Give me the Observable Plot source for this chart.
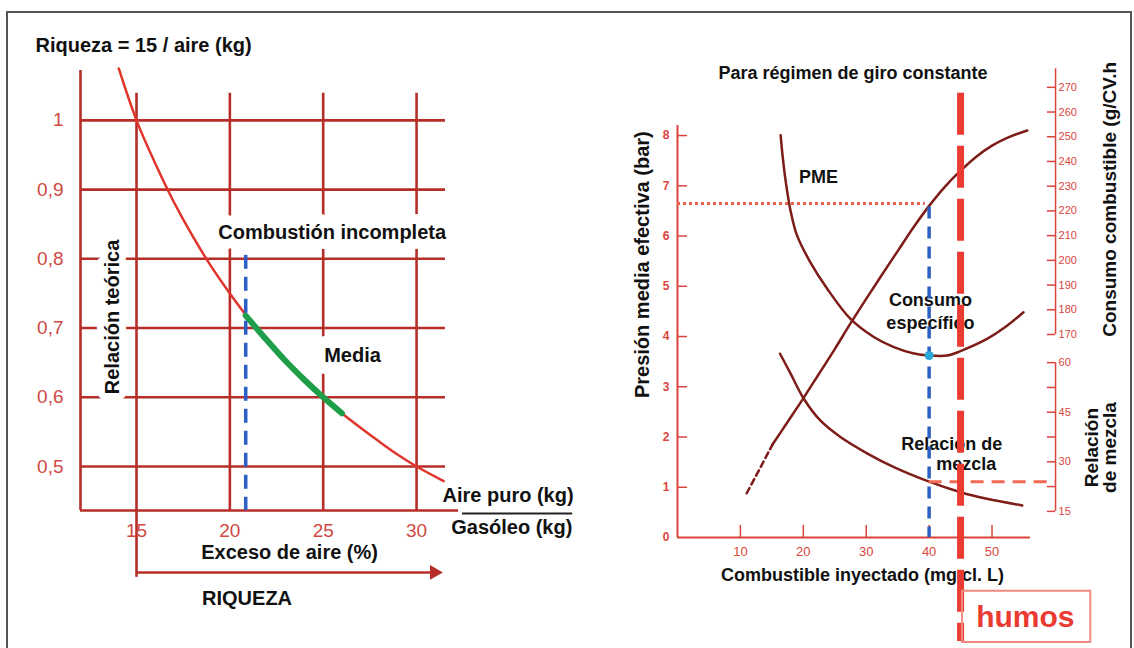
<!DOCTYPE html>
<html><head><meta charset="utf-8">
<script src="https://cdn.jsdelivr.net/npm/d3@7"></script>
<script src="https://cdn.jsdelivr.net/npm/@observablehq/plot@0.6"></script>
<style>
html,body{margin:0;padding:0;background:#fff;}
#wrap{position:relative;width:1134px;height:648px;overflow:hidden;background:#fff;font-family:"Liberation Sans",Arial,sans-serif;}
#frame{position:absolute;left:6px;top:11px;width:1122px;height:650px;border-left:2px solid #555;border-top:2px solid #555;border-right:2px solid #555;}
#left{position:absolute;left:0;top:0;width:600px;height:648px;}
#right{position:absolute;left:600px;top:0;width:534px;height:648px;}
</style></head><body>
<div id="wrap"><div id="frame"></div><div id="left"></div><div id="right"></div></div>
<script>
// ---------- Left chart data ----------
const leftYTicks = [0.5, 0.6, 0.7, 0.8, 0.9, 1];
const leftYLabels = ["0,5", "0,6", "0,7", "0,8", "0,9", "1"];
const leftXTicks = [15, 20, 25, 30];
const riquezaX = [14.05, 15, 16, 17, 18, 19, 20, 21, 22, 23, 24, 25, 26, 27, 28, 29, 30, 31.45];
const riquezaY = [1.075, 1.0, 0.938, 0.882, 0.833, 0.789, 0.75, 0.714, 0.682, 0.652, 0.625, 0.6, 0.577, 0.556, 0.536, 0.517, 0.5, 0.479];
const mediaX = [20.85, 22, 23, 24, 25, 26];
const mediaY = [0.718, 0.682, 0.652, 0.625, 0.6, 0.577];
const limiteX = [20.85];
const limiteTop = 0.805;

// ---------- Right chart data ----------
const pmeTicks = [0, 1, 2, 3, 4, 5, 6, 7, 8];
const fuelTicks = [10, 20, 30, 40, 50];
const consumoTicks = [170, 180, 190, 200, 210, 220, 230, 240, 250, 260, 270];
const mezclaTicks = [15, 22.5, 30, 37.5, 45, 52.5, 60];
const mezclaLabels = [15, 30, 45, 60];
const pmeDashX = [11, 13, 15.1];
const pmeDashY = [0.88, 1.35, 1.85];
const pmeX = [15.1, 17.5, 20, 22.5, 25, 27.5, 30, 32.5, 35, 37.5, 40, 42.5, 45, 47.5, 50, 52.5, 55.6];
const pmeY = [1.85, 2.3, 2.77, 3.26, 3.75, 4.26, 4.75, 5.23, 5.7, 6.17, 6.6, 6.98, 7.3, 7.58, 7.8, 7.96, 8.1];
const consumoX = [16.4, 16.7, 17.2, 17.9, 19.0, 21.1, 23.8, 27.5, 31.2, 34.4, 37.6, 40.0, 42.9, 45.0, 49.2, 52, 55];
const consumoY = [250.6, 242.5, 232.0, 221.0, 210.1, 199.3, 188.5, 176.3, 169.0, 164.9, 162.3, 161.5, 161.5, 163.3, 168.2, 172.8, 179.0];
const mezclaX = [16.3, 18.0, 20.1, 22.7, 25.9, 30.2, 34.4, 40.0, 45.0, 49.2, 54.8];
const mezclaY = [62.7, 56.6, 49.0, 42.5, 37.5, 32.5, 28.4, 24.0, 20.8, 18.8, 16.8];
const puntoX = [40];
const puntoPME = 6.65;
const puntoConsumo = 161.5;
const puntoMezcla = 24;
const humosX = [45];

// secondary axes, expressed on the PME (bar) frame
const consumoAxis = {lo: 170, hi: 270, yLo: 4.04, yHi: 8.96};
const mezclaAxis = {lo: 15, hi: 60, yLo: 0.52, yHi: 3.48};
const mapAxis = (a, v) => a.yLo + (v - a.lo) * (a.yHi - a.yLo) / (a.hi - a.lo);

const FONT = '"Liberation Sans", Arial, sans-serif';
const GRID = "#b72e28";
const CURVE = "#e0352b";
const TICKTXT = "#cf4842";
const BLUE = "#2b5fc4";
const BROWN = "#7e1d18";
const AX = "#d9453d";
const HUMO = "#ea3b33";

const lab = (t, x, y, o = {}) => Plot.text([t], {x, y, text: d => d, fontFamily: FONT, fontWeight: "bold", fontSize: 20, fill: "#111", ...o});

const riq = riquezaX.map((x, i) => ({x, y: riquezaY[i]}));
const med = mediaX.map((x, i) => ({x, y: mediaY[i]}));
const yLab = leftYTicks.map((v, i) => ({v, t: leftYLabels[i]}));

const left = Plot.plot({
  width: 600, height: 648,
  marginLeft: 80, marginRight: 155, marginTop: 70, marginBottom: 138,
  x: {domain: [12, 31.55], axis: null},
  y: {domain: [0.4365, 1.072], axis: null},
  style: {fontFamily: FONT, background: "transparent"},
  marks: [
    Plot.ruleY(leftYTicks, {x1: 12, x2: 31.55, stroke: GRID, strokeWidth: 2.6}),
    Plot.ruleX(leftXTicks, {y1: 0.4365, y2: 1.039, stroke: GRID, strokeWidth: 2.6}),
    Plot.ruleX([12], {y1: 0.4365, y2: 1.072, stroke: GRID, strokeWidth: 2.6}),
    Plot.ruleY([0.4365], {x1: 12, x2: 32.25, stroke: GRID, strokeWidth: 2.6}),
    Plot.ruleX([15], {y1: 0.4365, y2: 0.34, stroke: GRID, strokeWidth: 2.6}),
    Plot.ruleY([0.347], {x1: 15, x2: 30.8, stroke: GRID, strokeWidth: 2.6}),
    Plot.dot([0], {x: 30.95, y: 0.347, symbol: "triangle", rotate: 90, r: 5.5, fill: GRID, stroke: null}),
    Plot.text(yLab, {x: 12, y: "v", text: "t", dx: -17, textAnchor: "end", fill: TICKTXT, fontSize: 19}),
    Plot.text(leftXTicks, {x: d => d, y: 0.4365, dy: 20, text: d => String(d), fill: TICKTXT, fontSize: 19}),
    lab("Relación teórica", 13.74, 0.716, {rotate: -90, stroke: "white", strokeWidth: 14}),
    lab("Combustión incompleta", 25.48, 0.8373, {stroke: "white", strokeWidth: 20}),
    lab("Media", 26.57, 0.6604, {stroke: "white", strokeWidth: 24}),
    lab("Riqueza = 15 / aire (kg)", 9.59, 1.108, {textAnchor: "start"}),
    lab("Exceso de aire (%)", 23.2, 0.3763),
    lab("RIQUEZA", 20.92, 0.3094),
    lab("Aire puro (kg)", 34.9, 0.4582),
    lab("Gasóleo (kg)", 35.1, 0.412),
    Plot.ruleY([0.4322], {x1: 32.46, x2: 38.36, stroke: "#222", strokeWidth: 2}),
    Plot.line(riq, {x: "x", y: "y", stroke: CURVE, strokeWidth: 2.5, curve: "catmull-rom"}),
    Plot.line(med, {x: "x", y: "y", stroke: "#1f9e4a", strokeWidth: 6, curve: "catmull-rom"}),
    Plot.ruleX(limiteX, {y1: limiteTop, y2: 0.4365, stroke: BLUE, strokeWidth: 3.5, strokeDasharray: "14,8"})
  ]
});
document.getElementById("left").append(left);

// ---------- Right chart ----------
const RX = 60.1;
const pmeD = pmeDashX.map((x, i) => ({x, y: pmeDashY[i]}));
const pme = pmeX.map((x, i) => ({x, y: pmeY[i]}));
const cons = consumoX.map((x, i) => ({x, y: mapAxis(consumoAxis, consumoY[i])}));
const mez = mezclaX.map((x, i) => ({x, y: mapAxis(mezclaAxis, mezclaY[i])}));

const right = Plot.plot({
  width: 534, height: 648,
  marginLeft: 77, marginRight: 104.1, marginTop: 125, marginBottom: 111,
  x: {domain: [0, 56.1], axis: null},
  y: {domain: [0, 8.2], axis: null},
  style: {fontFamily: FONT, background: "transparent"},
  marks: [
    // main axes
    Plot.ruleX([0], {y1: 0, y2: 8.2, stroke: AX, strokeWidth: 2}),
    Plot.ruleY([0], {x1: 0, x2: 56.1, stroke: AX, strokeWidth: 2}),
    Plot.ruleY(pmeTicks.slice(1), {x1: 0, x2: 1.6, stroke: AX, strokeWidth: 1.5}),
    Plot.text(pmeTicks, {x: 0, y: d => d, text: d => String(d), dx: -8, textAnchor: "end", fill: AX, fontSize: 12, fontWeight: "bold"}),
    Plot.ruleX(fuelTicks, {y1: 0, y2: 0.24, stroke: AX, strokeWidth: 1.5}),
    Plot.text(fuelTicks, {x: d => d, y: 0, dy: 14, text: d => String(d), fill: AX, fontSize: 13}),
    // secondary axes
    Plot.ruleX([RX], {y1: mapAxis(consumoAxis, 170), y2: 9.33, stroke: AX, strokeWidth: 1.5}),
    Plot.ruleY(consumoTicks, {y: d => mapAxis(consumoAxis, d), x1: 58.8, x2: RX, stroke: AX, strokeWidth: 1.5}),
    Plot.text(consumoTicks, {x: RX, y: d => mapAxis(consumoAxis, d), text: d => String(d), dx: 3, textAnchor: "start", fill: AX, fontSize: 11}),
    Plot.ruleX([RX], {y1: mapAxis(mezclaAxis, 15), y2: mapAxis(mezclaAxis, 60), stroke: AX, strokeWidth: 1.5}),
    Plot.ruleY(mezclaTicks, {y: d => mapAxis(mezclaAxis, d), x1: 58.8, x2: RX, stroke: AX, strokeWidth: 1.5}),
    Plot.text(mezclaLabels, {x: RX, y: d => mapAxis(mezclaAxis, d), text: d => String(d), dx: 3, textAnchor: "start", fill: AX, fontSize: 11}),
    // titles
    lab("Para régimen de giro constante", 27.9, 9.24, {fontSize: 18}),
    lab("Combustible inyectado (mg cl. L)", 29.4, -0.756, {fontSize: 18}),
    lab("Presión media efectiva (bar)", -5.56, 5.43, {fontSize: 20, rotate: -90}),
    lab("Consumo combustible (g/CV.h", 68.7, 6.73, {fontSize: 19, rotate: -90}),
    lab("Relación", 65.8, 1.79, {fontSize: 19, rotate: -90}),
    lab("de mezcla", 68.7, 1.79, {fontSize: 19, rotate: -90}),
    // curve labels
    lab("PME", 22.4, 7.18, {fontSize: 18}),
    lab("Consumo", 40.2, 4.72, {fontSize: 18}),
    lab("específico", 40.2, 4.26, {fontSize: 18}),
    lab("Relación de", 43.6, 1.85, {fontSize: 18}),
    lab("mezcla", 45.9, 1.45, {fontSize: 18}),
    // curves
    Plot.line(pmeD, {x: "x", y: "y", stroke: BROWN, strokeWidth: 2.5, strokeDasharray: "6,4"}),
    Plot.line(pme, {x: "x", y: "y", stroke: BROWN, strokeWidth: 2.5, curve: "catmull-rom"}),
    Plot.line(cons, {x: "x", y: "y", stroke: BROWN, strokeWidth: 2.5, curve: "catmull-rom"}),
    Plot.line(mez, {x: "x", y: "y", stroke: BROWN, strokeWidth: 2.5, curve: "catmull-rom"}),
    // reference lines
    Plot.ruleY([puntoPME], {x1: 0, x2: 39.4, stroke: "#e8604f", strokeWidth: 3, strokeDasharray: "3,3"}),
    Plot.ruleY([mapAxis(mezclaAxis, puntoMezcla)], {x1: 40, x2: RX, stroke: "#f06a55", strokeWidth: 3, strokeDasharray: "13,8"}),
    Plot.ruleX(puntoX, {y1: 6.58, y2: 0, stroke: BLUE, strokeWidth: 3.5, strokeDasharray: "12,8"}),
    Plot.dot(puntoX, {x: d => d, y: mapAxis(consumoAxis, puntoConsumo), r: 4.5, fill: "#2aa8d8", stroke: null}),
    Plot.ruleX(humosX, {y1: 8.84, y2: -2.07, stroke: HUMO, strokeWidth: 7, strokeDasharray: "42,11"}),
    Plot.rect([0], {x1: 45.3, x2: 65.7, y1: -1.07, y2: -2.09, fill: "none", stroke: "#f08a80", strokeWidth: 2}),
    lab("humos", 55.3, -1.59, {fontSize: 30, fill: HUMO})
  ]
});
document.getElementById("right").append(right);
</script></body></html>
